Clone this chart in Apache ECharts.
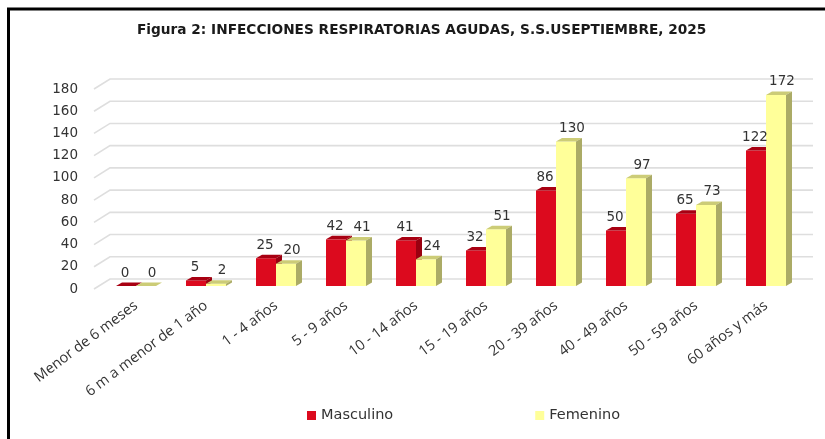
<!DOCTYPE html>
<html><head><meta charset="utf-8">
<style>html,body{margin:0;padding:0;background:#fff}#c{width:825px;height:439px}</style>
<script src="https://cdn.jsdelivr.net/npm/echarts@6/dist/echarts.min.js"></script>
</head><body><div id="c"></div>
<script>
const titleText = 'Figura 2: INFECCIONES RESPIRATORIAS AGUDAS, S.S.USEPTIEMBRE, 2025';
const categories = ['Menor de 6 meses','6 m a menor de 1 año','1 - 4 años','5 - 9 años','10 - 14 años','15 - 19 años','20 - 39 años','40 - 49 años','50 - 59 años','60 años y más'];
const masculino = [0,5,25,42,41,32,86,50,65,122];
const femenino = [0,2,20,41,24,51,130,97,73,172];
const yTicks = [0,20,40,60,80,100,120,140,160,180];

const chart = echarts.init(document.getElementById('c'), null, {renderer:'canvas'});
const numFont = '13.5px "DejaVu Sans"';

function bars(values, name, side, colors, labelDx){
  return {
    type:'custom', name, z:3, silent:true,
    itemStyle:{color:colors.front},
    data: values.map((v,i)=>[i,v]),
    encode:{x:0,y:1},
    renderItem(params, api){
      const w = 20, dx = 6, dy = 3.5, lift = 3;
      const top = api.coord([api.value(0), api.value(1)]);
      const base = api.coord([api.value(0), 0]);
      const x0 = side === 0 ? top[0]-w : top[0];
      const x1 = x0 + w, yt = top[1]-lift, yb = base[1]-lift;
      return {type:'group', children:[
        {type:'rect', shape:{x:x0,y:yt,width:w,height:yb-yt}, style:{fill:colors.front}},
        {type:'polygon', shape:{points:[[x0,yt],[x1,yt],[x1+dx,yt-dy],[x0+dx,yt-dy]]}, style:{fill:colors.top}},
        {type:'polygon', shape:{points:[[x1,yt],[x1+dx,yt-dy],[x1+dx,yb-dy],[x1,yb]]}, style:{fill:colors.side}},
        {type:'text', z2:10, style:{text:String(api.value(1)), x:(x0+x1)/2+labelDx, y:yt-13, align:'center', verticalAlign:'middle', fill:'#333', font:numFont}}
      ]};
    }
  };
}

chart.setOption({
  animation:false,
  backgroundColor:'#fff',
  title:{text:titleText, left:137, top:23, padding:0,
    textStyle:{fontFamily:'"DejaVu Sans"', fontWeight:'bold', fontSize:13.7, color:'#1a1a1a'}},
  legend:{data:['Masculino','Femenino'], left:307, top:408, padding:0, itemWidth:9, itemHeight:9, itemGap:142,
    icon:'rect', textStyle:{fontFamily:'"DejaVu Sans"', fontSize:14.5, color:'#333'}},
  grid:{left:101, right:24, top:89, bottom:150},
  xAxis:{type:'category', data:categories, axisLine:{show:false}, axisTick:{show:false},
    axisLabel:{rotate:37, margin:15, interval:0, fontFamily:'"Open Sans"', fontSize:14.5, color:'#333'}},
  yAxis:{type:'value', min:0, max:180, interval:20, axisLine:{show:false}, axisTick:{show:false}, splitLine:{show:false},
    axisLabel:{margin:23, padding:[2,0,0,0], fontFamily:'"DejaVu Sans"', fontSize:13.5, color:'#333'}},
  graphic:[
    {type:'polyline', shape:{points:[[8.5,439],[8.5,9],[825,9]]}, style:{stroke:'#000', lineWidth:3, fill:null}, silent:true}
  ],
  series:[
    {type:'custom', name:'pared', z:1, silent:true, data:yTicks.map(t=>[0,t]), encode:{y:1},
     renderItem(params, api){
       const p = api.coord([0, api.value(1)]);
       const left = params.coordSys.x;
       const y = p[1];
       return {type:'polyline', shape:{points:[[left-7,y],[left+9,y-10],[813,y-10]]},
         style:{stroke:'#dedede', lineWidth:1.6, fill:null}};
     }},
    bars(masculino,'Masculino',0,{front:'#DC0A1E',top:'#A80012',side:'#9A0010'},-1),
    bars(femenino,'Femenino',1,{front:'#FFFF99',top:'#CCCC77',side:'#ABAB66'},6)
  ]
});
</script></body></html>
